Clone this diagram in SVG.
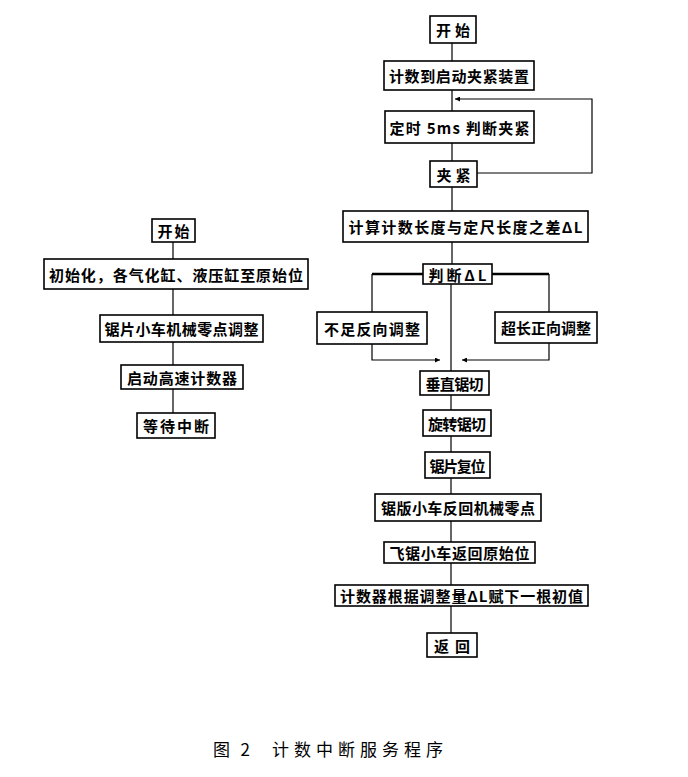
<svg xmlns="http://www.w3.org/2000/svg" width="688" height="777" viewBox="0 0 688 777">
<defs>
<marker id="ah" viewBox="0 0 10 10" refX="10" refY="5" markerWidth="6" markerHeight="5" orient="auto" markerUnits="userSpaceOnUse">
<path d="M0,0 L10,5 L0,10 z" fill="#000"/>
</marker>
<style>
.b{fill:#fff;stroke:#000;stroke-width:1.6}
.t{font-family:"Noto Sans CJK SC","Liberation Sans",sans-serif;font-size:15px;font-weight:700;fill:#000;text-anchor:middle;dominant-baseline:central}
.c{fill:none;stroke:#000;stroke-width:1.2}
.k{fill:none;stroke:#000;stroke-width:2.4}
.cap{font-family:"Noto Sans CJK SC","Liberation Serif",serif;font-size:17px;fill:#000}
</style>
</defs>
<rect width="688" height="777" fill="#fff"/>
<g id="connectors">
<path class="c" d="M452,43V61M452,90V111M452,143V161M452,187V211M452,242V264M451,283V371M451,395V410M451,436V452M451,478V494M451,521V542M451,563V585M451,606V633"/>
<path class="c" d="M477,173H592V99H455" marker-end="url(#ah)"/>
<path class="k" d="M423,274H372M492,274H549"/>
<path class="c" d="M372,274V312M549,274V312"/>
<path class="c" d="M372,344V360H440" marker-end="url(#ah)"/>
<path class="c" d="M549,343V360H462" marker-end="url(#ah)"/>
<path class="c" d="M173,242V259M173,289V315M173,342V365M173,389V413"/>
</g>
<g id="r1"><rect class="b" x="430" y="16" width="46" height="27"/><text class="t" x="453" y="29.5" textLength="34">开 始</text></g>
<g id="r2"><rect class="b" x="384" y="61" width="150" height="29"/><text class="t" x="459" y="75.5" textLength="140">计数到启动夹紧装置</text></g>
<g id="r3"><rect class="b" x="385" y="111" width="149" height="32"/><text class="t" x="459.5" y="127" textLength="140">定时 5ms 判断夹紧</text></g>
<g id="r4"><rect class="b" x="430" y="161" width="47" height="26"/><text class="t" x="453.5" y="174" textLength="34">夹 紧</text></g>
<g id="r5"><rect class="b" x="343" y="211" width="245" height="31"/><text class="t" x="465.5" y="226.5" textLength="234">计算计数长度与定尺长度之差ΔL</text></g>
<g id="r6"><rect class="b" x="423" y="264" width="69" height="20"/><text class="t" x="457.5" y="274" textLength="58">判断ΔL</text></g>
<g id="r7"><rect class="b" x="317" y="312" width="110" height="32"/><text class="t" x="372" y="328" textLength="96">不足反向调整</text></g>
<g id="r8"><rect class="b" x="495" y="312" width="102" height="31"/><text class="t" x="546" y="327.5" textLength="90">超长正向调整</text></g>
<g id="r9"><rect class="b" x="420" y="371" width="69" height="24"/><text class="t" x="454.5" y="383" textLength="58">垂直锯切</text></g>
<g id="r10"><rect class="b" x="423" y="410" width="68" height="26"/><text class="t" x="457" y="423" textLength="58">旋转锯切</text></g>
<g id="r11"><rect class="b" x="425" y="452" width="65" height="26"/><text class="t" x="457.5" y="465" textLength="56">锯片复位</text></g>
<g id="r12"><rect class="b" x="375" y="494" width="166" height="27"/><text class="t" x="458" y="507.5" textLength="154">锯版小车反回机械零点</text></g>
<g id="r13"><rect class="b" x="384" y="542" width="151" height="21"/><text class="t" x="459.5" y="552.5" textLength="140">飞锯小车返回原始位</text></g>
<g id="r14"><rect class="b" x="335" y="585" width="253" height="21"/><text class="t" x="461.5" y="595.5" textLength="243">计数器根据调整量ΔL赋下一根初值</text></g>
<g id="r15"><rect class="b" x="427" y="633" width="50" height="24"/><text class="t" x="452" y="645" textLength="36">返 回</text></g>
<g id="l1"><rect class="b" x="152" y="219" width="43" height="23"/><text class="t" x="173.5" y="230.5" textLength="32">开 始</text></g>
<g id="l2"><rect class="b" x="44" y="259" width="264" height="30"/><text class="t" x="176" y="274" textLength="254">初始化，各气化缸、液压缸至原始位</text></g>
<g id="l3"><rect class="b" x="100" y="315" width="163" height="27"/><text class="t" x="181.5" y="328.5" textLength="154">锯片小车机械零点调整</text></g>
<g id="l4"><rect class="b" x="121" y="365" width="122" height="24"/><text class="t" x="182" y="377" textLength="110">启动高速计数器</text></g>
<g id="l5"><rect class="b" x="137" y="413" width="78" height="25"/><text class="t" x="176" y="425.5" textLength="66">等待中断</text></g>
<g id="caption">
<text class="cap" x="213" y="756" textLength="37">图 2</text>
<text class="cap" x="272" y="756" textLength="171">计数中断服务程序</text>
</g>
</svg>
